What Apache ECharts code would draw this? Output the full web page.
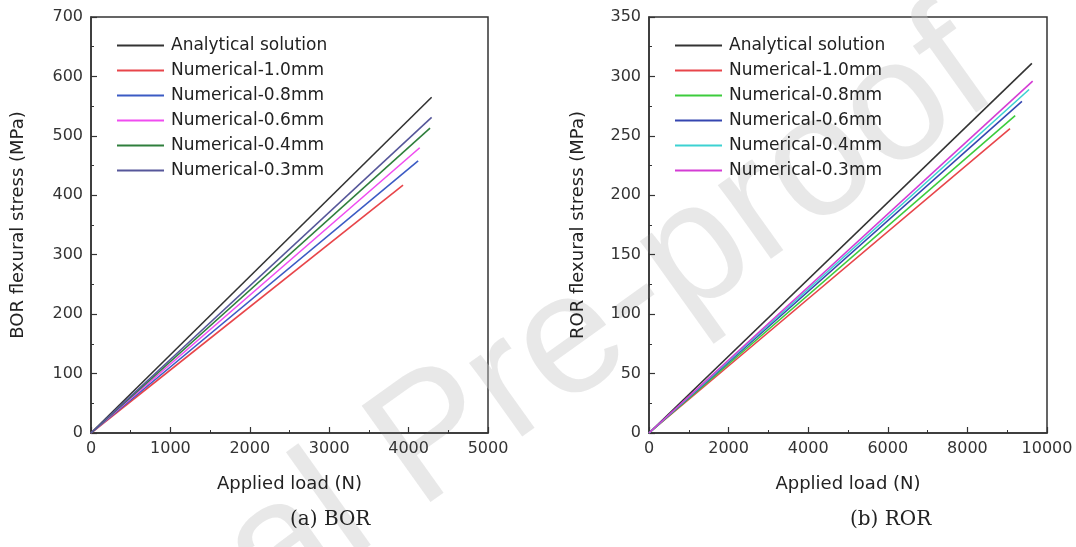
<!DOCTYPE html>
<html>
<head>
<meta charset="utf-8">
<script src="https://cdn.jsdelivr.net/npm/echarts@6/dist/echarts.min.js"></script>
<style>html,body{margin:0;padding:0;background:#fff;}#c{width:1076px;height:547px;}</style>
</head>
<body>
<div id="c"></div>
<script>
// ---- Data ----
var seriesNames = ['Analytical solution','Numerical-1.0mm','Numerical-0.8mm','Numerical-0.6mm','Numerical-0.4mm','Numerical-0.3mm'];
// (a) BOR : applied load (N) and flexural stress (MPa), start and end of each line
var borLoad_analytical = [0, 4290];   var borStress_analytical = [0, 565];
var borLoad_10 = [0, 3930];           var borStress_10 = [0, 417];
var borLoad_08 = [0, 4120];           var borStress_08 = [0, 458];
var borLoad_06 = [0, 4140];           var borStress_06 = [0, 480];
var borLoad_04 = [0, 4270];           var borStress_04 = [0, 513];
var borLoad_03 = [0, 4290];           var borStress_03 = [0, 531];
// (b) ROR
var rorLoad_analytical = [0, 9620];   var rorStress_analytical = [0, 311];
var rorLoad_10 = [0, 9070];           var rorStress_10 = [0, 256];
var rorLoad_08 = [0, 9200];           var rorStress_08 = [0, 267];
var rorLoad_06 = [0, 9370];           var rorStress_06 = [0, 279];
var rorLoad_04 = [0, 9550];           var rorStress_04 = [0, 289];
var rorLoad_03 = [0, 9640];           var rorStress_03 = [0, 296];

var borColors = ['#333333','#e8454a','#3b5bc4','#f04cf0','#2f7f3c','#56579a'];
var rorColors = ['#333333','#e8454a','#3ccc3c','#3546b0','#3cd2d2','#d43cd4'];

function pairs(xs, ys){ return xs.map(function(x,i){ return [x, ys[i]]; }); }
var borData = [pairs(borLoad_analytical,borStress_analytical),pairs(borLoad_10,borStress_10),pairs(borLoad_08,borStress_08),pairs(borLoad_06,borStress_06),pairs(borLoad_04,borStress_04),pairs(borLoad_03,borStress_03)];
var rorData = [pairs(rorLoad_analytical,rorStress_analytical),pairs(rorLoad_10,rorStress_10),pairs(rorLoad_08,rorStress_08),pairs(rorLoad_06,rorStress_06),pairs(rorLoad_04,rorStress_04),pairs(rorLoad_03,rorStress_03)];

var FONT = 'DejaVu Sans';
var axisColor = '#333';
function plain(v){ return String(v); }

function xAxis(idx, max, interval){
  return {type:'value', gridIndex:idx, min:0, max:max, interval:interval,
    name:'Applied load (N)', nameLocation:'middle', nameGap:42,
    nameTextStyle:{fontFamily:FONT, fontSize:18, color:'#222'},
    axisLine:{show:true, onZero:false, lineStyle:{color:axisColor, width:1.5}},
    axisTick:{show:true, inside:true, length:6, lineStyle:{color:axisColor, width:1.2}},
    minorTick:{show:true, splitNumber:2, length:3, lineStyle:{color:axisColor, width:1}},
    axisLabel:{fontFamily:FONT, fontSize:16, color:'#333', margin:8, formatter:plain},
    splitLine:{show:false}};
}
function yAxis(idx, max, interval, name, gap){
  return {type:'value', gridIndex:idx, min:0, max:max, interval:interval,
    name:name, nameLocation:'middle', nameGap:gap, nameRotate:90,
    nameTextStyle:{fontFamily:FONT, fontSize:18, color:'#222'},
    axisLine:{show:true, onZero:false, lineStyle:{color:axisColor, width:1.5}},
    axisTick:{show:true, inside:true, length:6, lineStyle:{color:axisColor, width:1.2}},
    minorTick:{show:true, splitNumber:2, length:3, lineStyle:{color:axisColor, width:1}},
    axisLabel:{fontFamily:FONT, fontSize:16, color:'#333', margin:8, formatter:plain},
    splitLine:{show:false}};
}

var series = [];
seriesNames.forEach(function(n,i){
  series.push({name:n, type:'line', xAxisIndex:0, yAxisIndex:0, data:borData[i], symbol:'none',
    lineStyle:{color:borColors[i], width:1.6}, itemStyle:{color:borColors[i]}, z:5, animation:false});
});
seriesNames.forEach(function(n,i){
  series.push({name:n, type:'line', xAxisIndex:1, yAxisIndex:1, data:rorData[i], symbol:'none',
    lineStyle:{color:rorColors[i], width:1.6}, itemStyle:{color:rorColors[i]}, z:5, animation:false});
});

function legend(left, colors){
  return {orient:'vertical', left:left, top:32, itemWidth:47, itemHeight:2, itemGap:8,
    selectedMode:false, icon:'rect',
    textStyle:{fontFamily:FONT, fontSize:17, color:'#222', padding:[0,0,0,2]},
    data:seriesNames.map(function(n,i){ return {name:n, itemStyle:{color:colors[i], borderWidth:0}}; })};
}

var option = {
  backgroundColor:'#fff',
  animation:false,
  grid:[
    {left:91, top:17, width:397, height:416, show:true, borderColor:axisColor, borderWidth:1.5, backgroundColor:'transparent'},
    {left:649, top:17, width:398, height:416, show:true, borderColor:axisColor, borderWidth:1.5, backgroundColor:'transparent'}
  ],
  xAxis:[xAxis(0,5000,1000), xAxis(1,10000,2000)],
  yAxis:[yAxis(0,700,100,'BOR flexural stress (MPa)',64), yAxis(1,350,50,'ROR flexural stress (MPa)',62)],
  legend:[legend(112, borColors), legend(670, rorColors)],
  series:series,
  graphic:[
    {type:'text', left:290, top:510, z:100, style:{text:'(a) BOR', fontFamily:'DejaVu Serif', fontSize:20, fill:'#222', textAlign:'center'}},
    {type:'text', left:850, top:510, z:100, style:{text:'(b) ROR', fontFamily:'DejaVu Serif', fontSize:20, fill:'#222', textAlign:'center'}},
    {type:'text', x:975, y:55, rotation:0.62, z:0, silent:true,
      style:{text:'Journal Pre-proof', fontFamily:'Liberation Sans', fontSize:172, fill:'rgba(200,200,200,0.42)', align:'right', verticalAlign:'middle'}}
  ]
};
var chart = echarts.init(document.getElementById('c'), null, {renderer:'canvas'});
chart.setOption(option);
</script>
</body>
</html>
